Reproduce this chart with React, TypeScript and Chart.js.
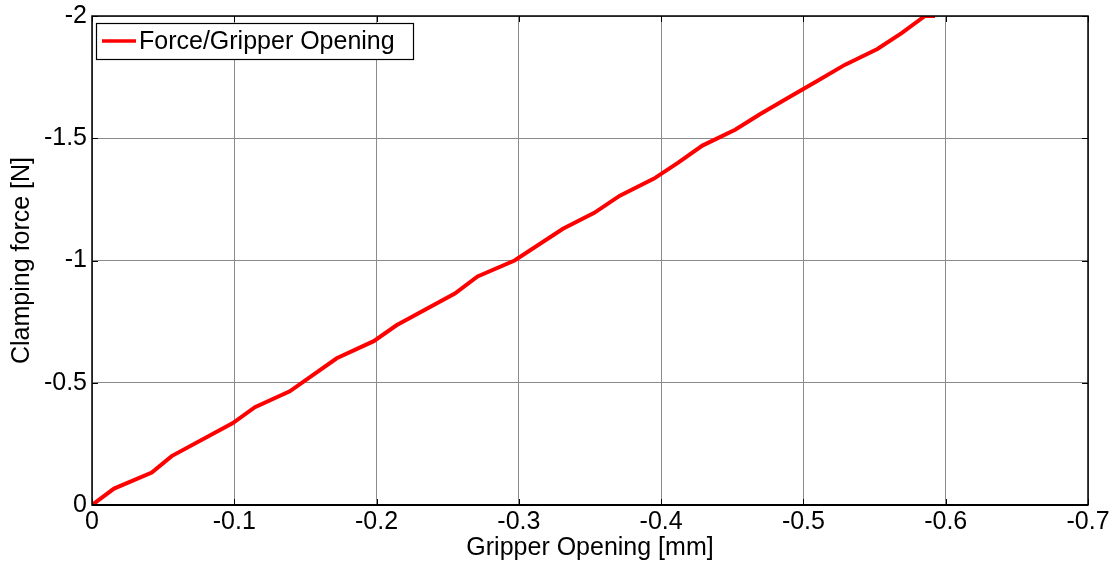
import React, { useEffect, useRef } from "react";
import { Chart, registerables } from "chart.js";

Chart.register(...registerables);

const seriesLabel = "Force/Gripper Opening";
const xTitle = "Gripper Opening [mm]";
const yTitle = "Clamping force [N]";

const openingMm = [
  0, -0.0155, -0.042, -0.056, -0.099, -0.1145, -0.139, -0.172, -0.198, -0.214,
  -0.255, -0.271, -0.297, -0.331, -0.353, -0.371, -0.395, -0.412, -0.429,
  -0.452, -0.470, -0.492, -0.510, -0.529, -0.552, -0.569, -0.5854, -0.5925,
];
const forceN = [
  0, -0.067, -0.133, -0.2, -0.335, -0.4, -0.465, -0.6, -0.67, -0.735, -0.865,
  -0.935, -1.0, -1.13, -1.195, -1.265, -1.335, -1.4, -1.47, -1.535, -1.6,
  -1.675, -1.735, -1.8, -1.865, -1.93, -2.0, -2.0,
];

const xTicks = [0, -0.1, -0.2, -0.3, -0.4, -0.5, -0.6, -0.7];
const yTicks = [0, -0.5, -1, -1.5, -2];

const FONT = "'Liberation Sans', Arial, sans-serif";

const frameAndLegend = {
  id: "frameAndLegend",
  afterDatasetsDraw(chart: any) {
    const { ctx, chartArea: a, scales } = chart;
    ctx.save();
    ctx.strokeStyle = "#000";
    ctx.lineWidth = 1;
    const tl = 6;
    xTicks.forEach((v) => {
      const px = Math.round(scales.x.getPixelForValue(v)) + 0.5;
      ctx.beginPath();
      ctx.moveTo(px, a.bottom);
      ctx.lineTo(px, a.bottom - tl);
      ctx.moveTo(px, a.top);
      ctx.lineTo(px, a.top + tl);
      ctx.stroke();
    });
    yTicks.forEach((v) => {
      const py = Math.round(scales.y.getPixelForValue(v)) + 0.5;
      ctx.beginPath();
      ctx.moveTo(a.left, py);
      ctx.lineTo(a.left + tl, py);
      ctx.moveTo(a.right, py);
      ctx.lineTo(a.right - tl, py);
      ctx.stroke();
    });
    ctx.lineWidth = 1.5;
    ctx.strokeRect(a.left, a.top, a.right - a.left, a.bottom - a.top);
    ctx.lineWidth = 2;
    ctx.beginPath();
    ctx.moveTo(a.left, a.bottom);
    ctx.lineTo(a.right, a.bottom);
    ctx.stroke();
    // legend
    const lx = a.left + 4;
    const ly = a.top + 7;
    const lw = 317;
    const lh = 36;
    ctx.fillStyle = "#fff";
    ctx.fillRect(lx, ly, lw, lh);
    ctx.lineWidth = 1.2;
    ctx.strokeStyle = "#000";
    ctx.strokeRect(lx + 0.5, ly + 0.5, lw, lh);
    ctx.strokeStyle = "#ff0000";
    ctx.lineWidth = 3.5;
    ctx.beginPath();
    ctx.moveTo(lx + 6, ly + 18);
    ctx.lineTo(lx + 40, ly + 18);
    ctx.stroke();
    ctx.fillStyle = "#000";
    ctx.font = `25px ${FONT}`;
    ctx.textBaseline = "middle";
    ctx.textAlign = "left";
    ctx.fillText(seriesLabel, lx + 43, ly + 19);
    ctx.restore();
  },
};

const fmt = (v: number) => {
  const n = Number(Number(v).toFixed(2));
  return n === 0 ? "0" : String(n);
};

export default function App() {
  const ref = useRef<HTMLCanvasElement | null>(null);
  useEffect(() => {
    document.body.style.margin = "0";
    const points = openingMm.map((x, i) => ({ x, y: forceN[i] }));
    const chart = new Chart(ref.current as HTMLCanvasElement, {
      type: "line",
      data: {
        datasets: [
          {
            label: seriesLabel,
            data: points,
            borderColor: "#ff0000",
            borderWidth: 4,
            pointRadius: 0,
            tension: 0,
            fill: false,
            clip: 0,
          } as any,
        ],
      },
      options: {
        animation: false,
        responsive: false,
        maintainAspectRatio: false,
        layout: { padding: { top: 16, right: 22, left: 0, bottom: 0 } },
        plugins: { legend: { display: false }, tooltip: { enabled: false } },
        scales: {
          x: {
            type: "linear",
            min: -0.7,
            max: 0,
            reverse: true,
            afterBuildTicks: (s: any) => {
              s.ticks = xTicks.map((v) => ({ value: v }));
            },
            afterFit: (s: any) => {
              s.height = 60;
              s.paddingLeft = 0;
              s.paddingRight = 0;
            },
            grid: { color: "#8a8a8a", lineWidth: 1, drawTicks: false },
            border: { display: false },
            ticks: {
              color: "#000",
              font: { family: FONT, size: 25 },
              padding: 2,
              maxRotation: 0,
              callback: (v: any) => fmt(v),
            },
            title: {
              display: true,
              text: xTitle,
              color: "#000",
              font: { family: FONT, size: 25 },
              padding: { top: 0, bottom: 2 },
            },
          },
          y: {
            type: "linear",
            min: -2,
            max: 0,
            reverse: true,
            afterBuildTicks: (s: any) => {
              s.ticks = yTicks.map((v) => ({ value: v }));
            },
            afterFit: (s: any) => {
              s.width = 92;
              s.paddingTop = 0;
              s.paddingBottom = 0;
            },
            grid: { color: "#8a8a8a", lineWidth: 1, drawTicks: false },
            border: { display: false },
            ticks: {
              color: "#000",
              font: { family: FONT, size: 25 },
              padding: 5,
              callback: (v: any) => fmt(v),
            },
            title: {
              display: true,
              text: yTitle,
              color: "#000",
              font: { family: FONT, size: 25 },
              padding: { top: 7, bottom: 0 },
            },
          },
        },
      },
      plugins: [frameAndLegend],
    });
    return () => chart.destroy();
  }, []);
  return (
    <div style={{ position: "absolute", left: 0, top: 0, width: 1110, height: 565, background: "#fff" }}>
      <canvas ref={ref} width={1110} height={565} />
    </div>
  );
}
